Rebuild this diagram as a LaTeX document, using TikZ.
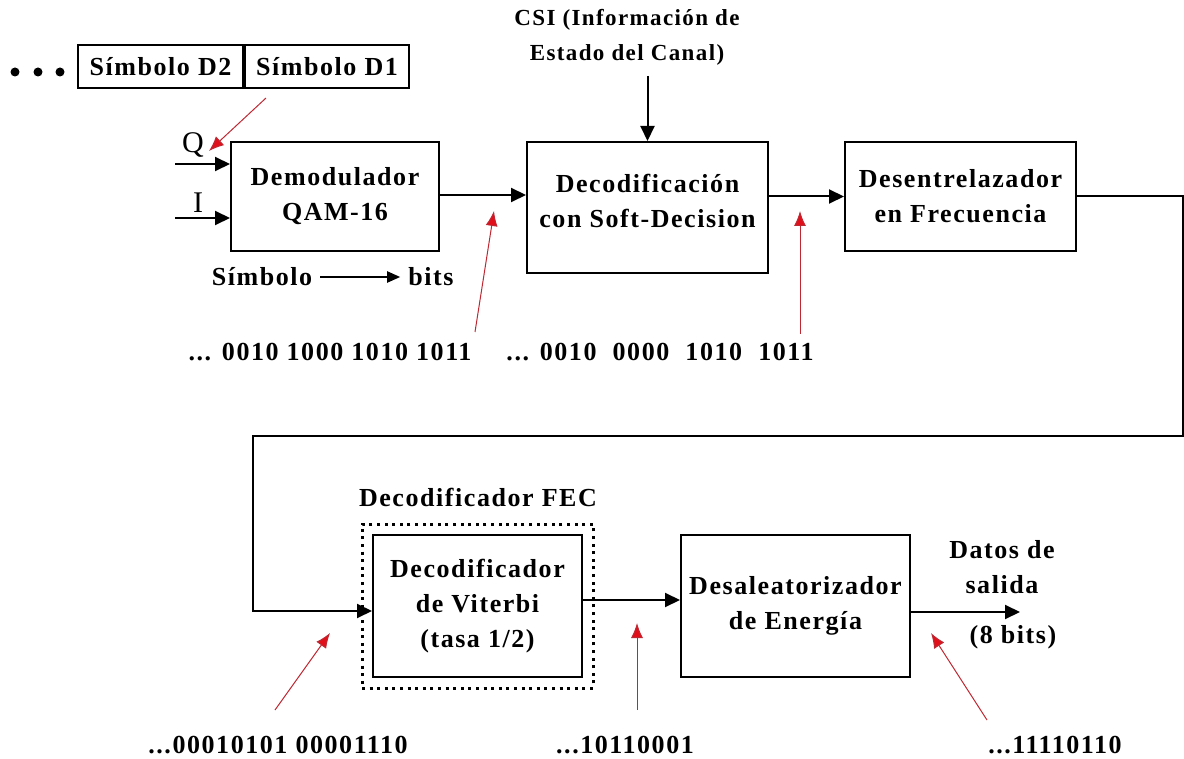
\documentclass[tikz,border=0pt]{standalone}
\usepackage{fontspec}
\usetikzlibrary{arrows.meta}
% Bold serif, tracked out a little
\newfontfamily\diagfont{Liberation Serif Bold}[LetterSpace=6]
\newfontfamily\plainfont{Liberation Serif}
\newcommand{\diag}{\diagfont\fontsize{26}{35}\selectfont}
\newcommand{\diagsmall}{\diagfont\fontsize{23}{35}\selectfont}
\definecolor{noteline}{RGB}{190,40,50}
\definecolor{notetip}{RGB}{225,15,25}
\tikzset{
  blk/.style={draw=black, line width=2pt, fill=white, align=center, inner sep=0pt, font=\diag},
  lbl/.style={align=center, inner sep=0pt, font=\diag},
  flow/.style={line width=2pt, -{Triangle[length=15pt,width=14pt]}},
  note/.style={draw=noteline, line width=1pt, -{Latex[length=15pt,width=12pt,fill=notetip]}},
  dotmark/.style={circle, fill=black, inner sep=0pt, minimum size=9pt},
}
\begin{document}
\begin{tikzpicture}[x=1pt, y=-1pt]
\useasboundingbox (0,0) rectangle (1184,759);

% symbol stream
\node[dotmark] (dot1) at (15,72) {};
\node[dotmark] (dot2) at (38,72) {};
\node[dotmark] (dot3) at (60,72) {};
\node[blk, minimum width=165pt, minimum height=43pt] (symD2) at (160.5,66.5) {Símbolo D2};
\node[blk, minimum width=164pt, minimum height=43pt, anchor=west] (symD1) at (symD2.east) {Símbolo D1};

% first row
\node[blk, minimum width=208pt, minimum height=109pt] (demod) at (335,196.5) {Demodulador\\QAM-16};
\node[blk, minimum width=241pt, minimum height=131pt] (decod) at (647.5,207.5) {};
\node[lbl] (decodtxt) at (647.5,200.5) {Decodificación\\con Soft-Decision};
\node[blk, minimum width=231pt, minimum height=109pt] (desent) at (960.5,196.5) {Desentrelazador\\en Frecuencia};

\node[inner sep=0pt, font=\plainfont\fontsize{30}{32}\selectfont] (qlbl) at (193,145) {Q};
\node[inner sep=0pt, font=\plainfont\fontsize{30}{32}\selectfont] (ilbl) at (198,203) {I};
\coordinate (qin) at (175,164);
\coordinate (iin) at (175,218);
\draw[flow] (qin) -- (qin -| demod.west);
\draw[flow] (iin) -- (iin -| demod.west);

\node[lbl] (simb) at (262,277) {Símbolo};
\node[lbl] (bitsw) at (431,277) {bits};
\draw[line width=2pt, -{Triangle[length=13pt,width=11pt]}] (simb.east) ++(8pt,0) -- ([xshift=-8pt]bitsw.west);

\node[lbl, font=\diagsmall] (csi) at (627,37.5) {CSI (Información de\\Estado del Canal)};
\coordinate (csitail) at (647.5,76);
\draw[flow] (csitail) -- (decod.north);

\draw[flow] (demod.east) ++(0,1.5pt) coordinate (d1) -- (d1 -| decod.west);
\draw[flow] (desent.west -| decod.east) -- (desent.west);

\node[lbl] (bitsA) at (330,352) {... 0010 1000 1010 1011};
\node[lbl] (bitsB) at (660,352) {... 0010\ \ 0000\ \ 1010\ \ 1011};

% second row
\node[draw, line width=3pt, dash pattern=on 3pt off 4.6pt, minimum width=231pt, minimum height=164pt, inner sep=0pt] (fec) at (477.5,606) {};
\node[blk, minimum width=209pt, minimum height=142pt] (viterbi) at (477.5,606) {Decodificador\\de Viterbi\\(tasa 1/2)};
\node[lbl] (feclbl) at (478,497) {Decodificador FEC};
\node[blk, minimum width=229pt, minimum height=142pt] (desal) at (795.5,606) {Desaleatorizador\\de Energía};

\coordinate (turnR) at (1183,436);
\coordinate (turnL) at (253,436);
\draw[flow] (desent.east) -| (turnR) -- (turnL) |- ([yshift=-5pt]viterbi.west);
\draw[flow] ([yshift=6pt]viterbi.east) -- ([yshift=6pt]desal.west);
\coordinate (outend) at (1020,612);
\draw[flow] (desal.east |- outend) -- (outend);

\node[lbl] (datos) at (1002,567) {Datos de\\salida};
\node[lbl] (ochob) at (1013,637) {(8 bits)};

\node[lbl] (bitsC) at (278,745) {...00010101 00001110};
\node[lbl] (bitsD) at (625,745) {...10110001};
\node[lbl] (bitsE) at (1055,745) {...11110110};

% red pointers
\coordinate (p1a) at (266,98);   \coordinate (p1b) at (209,151);
\coordinate (p2a) at (475,332);  \coordinate (p2b) at (494,211);
\coordinate (p3a) at (800,334);  \coordinate (p3b) at (800,211);
\coordinate (p4a) at (275,710);  \coordinate (p4b) at (330,633);
\coordinate (p5a) at (637,710);  \coordinate (p5b) at (637,623);
\coordinate (p6a) at (987,720);  \coordinate (p6b) at (931,633);
\draw[note] (p1a) -- (p1b);
\draw[note] (p2a) -- (p2b);
\draw[note] (p3a) -- (p3b);
\draw[note] (p4a) -- (p4b);
\draw[note] (p5a) -- (p5b);
\draw[note] (p6a) -- (p6b);
\end{tikzpicture}
\end{document}
